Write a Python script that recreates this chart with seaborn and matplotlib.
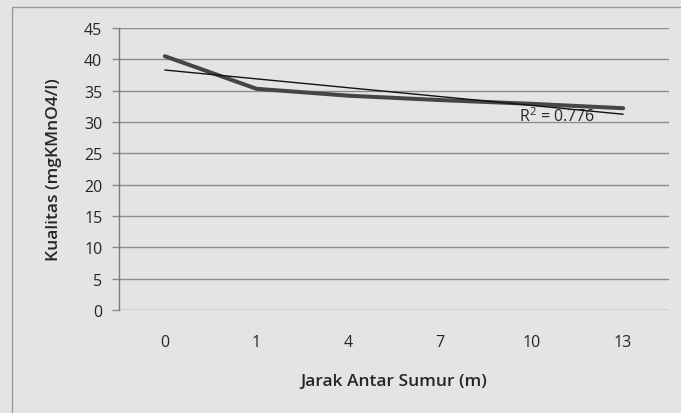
import numpy as np
import pandas as pd
import matplotlib
matplotlib.use('Agg')
import matplotlib.pyplot as plt
import seaborn as sns
from matplotlib.patches import Rectangle

# data
jarak = ['0', '1', '4', '7', '10', '13']
kualitas = [40.5, 35.3, 34.2, 33.5, 32.9, 32.2]
y_ticks = [0, 5, 10, 15, 20, 25, 30, 35, 40, 45]
r2_label = 'R$^2$ = 0.776'

BG = '#e4e4e4'
GRID = '#8c8c8c'
TXT = '#262626'

sns.set_style('white')
plt.rcParams['font.family'] = ['Open Sans', 'DejaVu Sans']
plt.rcParams['mathtext.fontset'] = 'custom'
plt.rcParams['mathtext.rm'] = 'Open Sans'

df = pd.DataFrame({'jarak': jarak, 'kualitas': kualitas})
df['pos'] = np.arange(len(df))

fig = plt.figure(figsize=(6.81, 4.14), dpi=100, facecolor=BG)
ax = fig.add_axes([119/681, 1 - 311/414, 550/681, 282/414])
ax.set_facecolor(BG)

# outer chart border (only top and left visible in the crop)
fig.patches.append(Rectangle((12/681, -0.05), 1.2, 1 - 8/414 + 0.05,
                             transform=fig.transFigure, fill=False,
                             edgecolor='#9a9a9a', linewidth=1.0))

for t in y_ticks:
    ax.axhline(t, color=GRID, linewidth=1.0, zorder=1)

sns.lineplot(data=df, x='pos', y='kualitas', ax=ax, color='#454545',
             linewidth=2.9, zorder=3)

# linear trendline over category index, as excel does
coef = np.polyfit(df['pos'] + 1, df['kualitas'], 1)
trend = np.polyval(coef, df['pos'] + 1)
sns.lineplot(x=df['pos'], y=trend, ax=ax, color='#111111', linewidth=1.0,
             zorder=4)
ax.text(3.86, 30.2, r2_label, fontsize=11.5, color=TXT, zorder=5)

ax.set_xlim(-0.5, 5.5)
ax.set_ylim(0, 45)
ax.set_xticks(df['pos'])
ax.set_xticklabels(jarak)
ax.set_yticks(y_ticks)
ax.tick_params(axis='x', length=0, pad=17, labelsize=11.5, colors=TXT)
ax.tick_params(axis='y', length=5, width=1, color=GRID, pad=7,
               labelsize=11.5, labelcolor=TXT, left=True)

for s in ['top', 'right', 'bottom']:
    ax.spines[s].set_visible(False)
ax.spines['left'].set_color('#7a7a7a')
ax.spines['left'].set_linewidth(1.0)

ax.set_xlabel('Jarak Antar Sumur (m)', fontsize=12.5, fontweight='semibold',
              color=TXT, labelpad=17)
ax.set_ylabel('Kualitas (mgKMnO4/l)', fontsize=12.5, fontweight='semibold',
              color=TXT, labelpad=16)

fig.savefig('out.png', dpi=100, facecolor=BG)
